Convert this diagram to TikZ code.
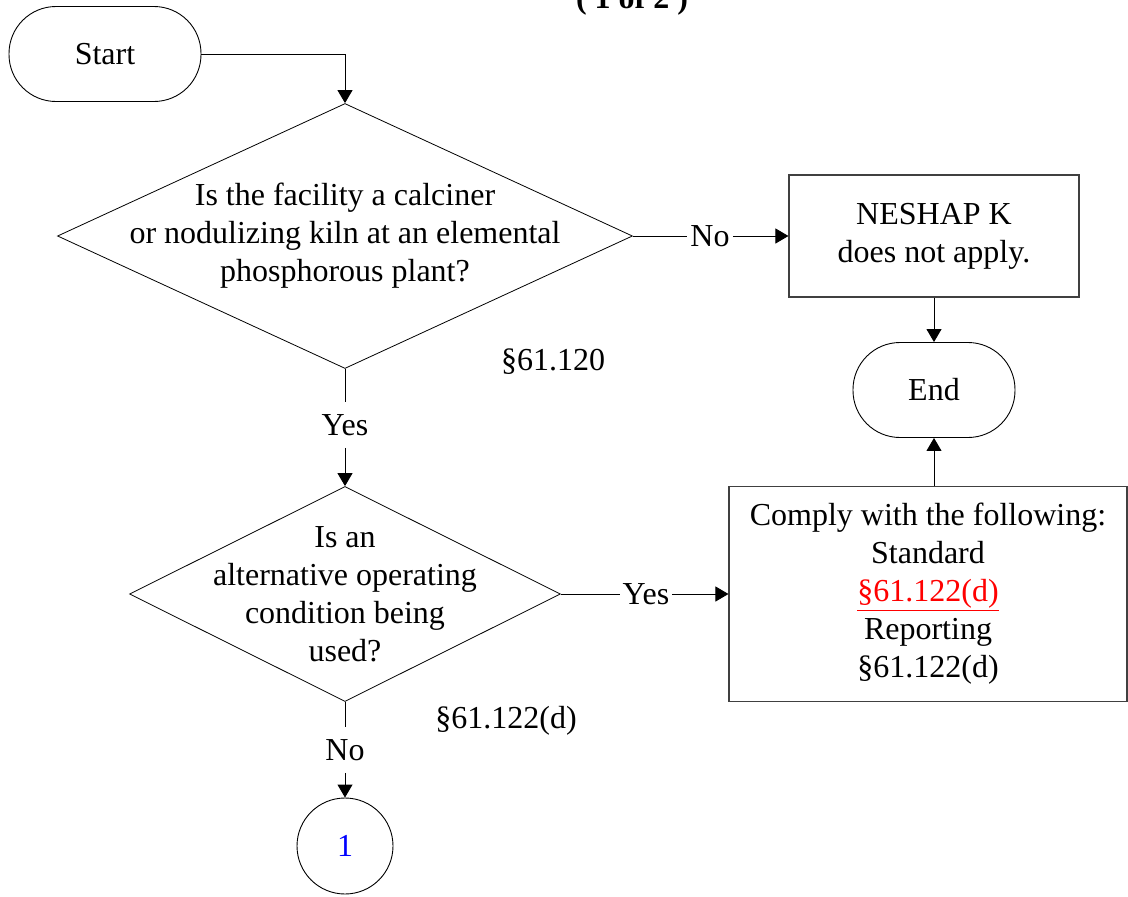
\documentclass[tikz,border=0pt]{standalone}
\usepackage{fontspec}
\setmainfont{Liberation Serif}
\usepackage{tikz}
\usetikzlibrary{shapes.geometric}
\usetikzlibrary{arrows.meta}
\tikzset{
   txt/.style={font=\fontsize{32}{38}\selectfont},
   terminal/.style={txt, draw=black, line width=0.9pt, rounded corners=47pt,
      minimum width=#1, minimum height=95pt},
   process/.style={txt, draw=black!75, line width=1.1pt, align=center},
   decision/.style={draw=black, line width=0.8pt, diamond, inner sep=0pt},
   answer/.style={txt, inner xsep=3pt, inner ysep=12pt},
   flow/.style={line width=0.9pt, -{Triangle[length=13pt,width=15pt]}},
   plain/.style={line width=0.9pt},
    }
\begin{document}
\begin{tikzpicture}[x=1pt,y=-1pt]
        \useasboundingbox (0,0) rectangle (1128,897);
        \node[txt, font=\fontsize{32}{38}\selectfont\bfseries, anchor=base] (title) at (632,8) {( 1 of 2 )};

        % boxes
        \node[terminal=192pt] (start) at (105,54) {Start};
        \node[decision, minimum width=575pt, minimum height=265pt] (d1) at (345,236) {};
        \node[txt, align=center] (q1) at (d1.center) {Is the facility a calciner\\or nodulizing kiln at an elemental\\phosphorous plant?};
        \node[process, minimum width=290pt, minimum height=122pt] (neshap) at (934,236) {NESHAP K\\does not apply.};
        \node[terminal=162pt] (end) at (934,390) {End};
        \node[decision, minimum width=431pt, minimum height=215pt] (d2) at (345,594) {};
        \node[txt, align=center] (q2) at (d2.center) {Is an\\alternative operating\\condition being\\used?};
        \node[process, minimum width=398pt, minimum height=215pt] (comply) at (928,594)
            {Comply with the following:\\Standard\\\textcolor{red}{\underline{§61.122(d)}}\\Reporting\\§61.122(d)};
        \node[txt, draw=black, line width=0.9pt, circle, minimum size=96pt, inner sep=0pt] (c1) at (345,846) {\textcolor{blue}{1}};

        % citations
        \node[txt] (cite1) at (553,362) {§61.120};
        \node[txt] (cite2) at (506,721) {§61.122(d)};

        % answers
        \node[answer] (no1) at (710,236) {No};
        \node[answer] (yes1) at (345,425) {Yes};
        \node[answer] (yes2) at (646,594) {Yes};
        \node[answer] (no2) at (345,750) {No};

        % arrows
        \draw[flow] (start.east) -| (d1.north);
        \draw[plain] (d1.east) -- (no1.west);
        \draw[flow] (no1.east) -- (neshap.west);
        \draw[flow] (neshap.south) -- (end.north);
        \draw[plain] (d1.south) -- (yes1.north);
        \draw[flow] (yes1.south) -- (d2.north);
        \draw[plain] (d2.east) -- (yes2.west);
        \draw[flow] (yes2.east) -- (comply.west);
        \draw[flow] (comply.north -| end.south) -- (end.south);
        \draw[plain] (d2.south) -- (no2.north);
        \draw[flow] (no2.south) -- (c1.north);

        \end{tikzpicture}
\end{document}
